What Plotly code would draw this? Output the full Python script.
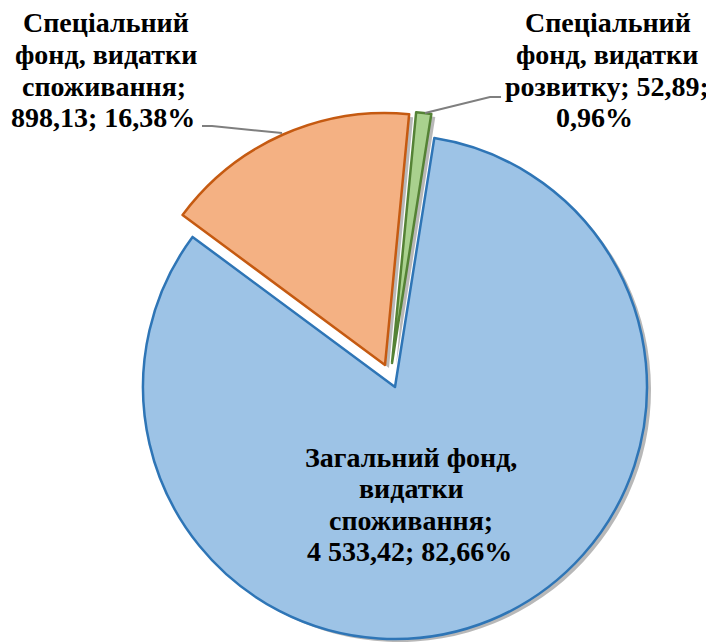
import plotly.graph_objects as go

# ---- data ----
categories = [
    "Спеціальний фонд, видатки розвитку",
    "Загальний фонд, видатки споживання",
    "Спеціальний фонд, видатки споживання",
]
values = [52.89, 4533.42, 898.13]
value_labels = ["52,89", "4 533,42", "898,13"]
percent_labels = ["0,96%", "82,66%", "16,38%"]

# label text split into lines (as in the original)
label_lines = [
    ["Спеціальний", "фонд, видатки", "розвитку; 52,89;", "0,96%"],
    ["Загальний фонд,", "видатки", "споживання;", "4 533,42; 82,66%"],
    ["Спеціальний", "фонд, видатки", "споживання;", "898,13; 16,38%"],
]

fill_colors = ["#A9D18E", "#9DC3E6", "#F4B183"]
line_colors = ["#548235", "#2E75B6", "#C55A11"]

# ---- layout (pixels in the reference picture) ----
OFF = 8            # page body margin
W, H = 714 - OFF, 642 - OFF
R = 252
centers = [(392, 363), (395, 387), (385, 365)]  # exploded slice centres
label_pos = [
    [(608, 23), (607, 54.5), (607, 86), (594, 117.5)],
    [(411, 457), (411, 488.5), (411, 520), (410, 551.5)],
    [(106, 23), (106, 54.5), (104, 86), (103, 117.5)],
]
leaders = [
    [(425, 113), (490, 97), (501, 97)],
    [(282, 133), (212, 126), (202, 126)],
]
SHADOW = (4, 3)
FONT = "Liberation Serif"


def X(px):
    return min(1.0, max(0.0, (px - OFF) / W))


def Y(py):
    return min(1.0, max(0.0, 1 - (py - OFF) / H))


def domain(cx, cy):
    return dict(x=[X(cx - R), X(cx + R)], y=[Y(cy + R), Y(cy - R)])


fig = go.Figure()

common = dict(
    labels=categories,
    values=values,
    sort=False,
    direction="clockwise",
    rotation=5.5,
    textinfo="none",
    hoverinfo="skip",
    showlegend=False,
)

# shadows
for i, (cx, cy) in enumerate(centers):
    cols = ["rgba(0,0,0,0)"] * len(values)
    cols[i] = "rgba(0,0,0,0.28)"
    fig.add_trace(go.Pie(
        **common,
        domain=domain(cx + SHADOW[0], cy + SHADOW[1]),
        marker=dict(colors=cols, line=dict(width=0)),
    ))

# slices
for i in [1, 0, 2]:
    cx, cy = centers[i]
    cols = ["rgba(0,0,0,0)"] * len(values)
    cols[i] = fill_colors[i]
    lcols = ["rgba(0,0,0,0)"] * len(values)
    lcols[i] = line_colors[i]
    widths = [0] * len(values)
    widths[i] = 2.5
    fig.add_trace(go.Pie(
        **common,
        domain=domain(cx, cy),
        marker=dict(colors=cols, line=dict(color=lcols, width=widths)),
    ))

annotations = []
for lines, poss in zip(label_lines, label_pos):
    for txt, (px, py) in zip(lines, poss):
        annotations.append(dict(
            x=X(px), y=Y(py), xref="paper", yref="paper",
            text=txt, showarrow=False, xanchor="center", yanchor="middle",
            font=dict(family=FONT, size=28, color="black", weight="bold"),
        ))

shapes = []
for pts in leaders:
    path = "M " + " L ".join(f"{X(px)},{Y(py)}" for px, py in pts)
    shapes.append(dict(type="path", path=path, xref="paper", yref="paper",
                       line=dict(color="#7F7F7F", width=2)))

fig.update_layout(
    width=W, height=H,
    margin=dict(l=0, r=0, t=0, b=0),
    paper_bgcolor="white", plot_bgcolor="white",
    annotations=annotations,
    shapes=shapes,
)

fig.write_html("out.html")
